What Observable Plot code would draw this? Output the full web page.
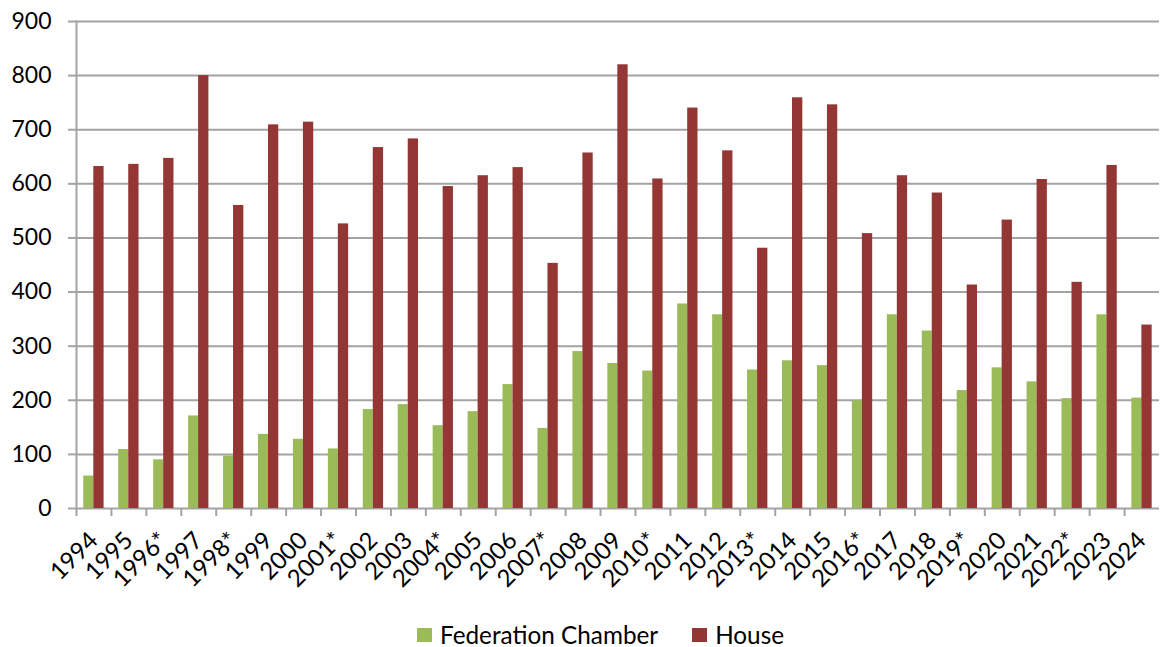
<!DOCTYPE html>
<html>
<head>
<meta charset="utf-8">
<script src="https://cdn.jsdelivr.net/npm/d3@7"></script>
<script src="https://cdn.jsdelivr.net/npm/@observablehq/plot@0.6"></script>
<style>
  html, body { margin: 0; padding: 0; background: #fff; }
  #chart { width: 1161px; height: 647px; position: relative; font-family: "Lato", sans-serif; }
  #chart svg { display: block; }
  .legend { display: flex; align-items: center; height: 24px; line-height: 24px; margin-left: 417px; font-size: 24.3px; color: #000; }
  .legend .item { display: flex; align-items: center; margin-right: 34px; }
  .legend .sw { width: 15px; height: 14px; margin-right: 8px; }
</style>
</head>
<body>
<div id="chart"></div>
<script>
const years = ["1994","1995","1996*","1997","1998*","1999","2000","2001*","2002","2003","2004*","2005","2006","2007*","2008","2009","2010*","2011","2012","2013*","2014","2015","2016*","2017","2018","2019*","2020","2021","2022*","2023","2024"];
const federationChamber = [60,109,90,171,97,137,128,110,183,192,153,179,229,148,290,268,254,378,358,256,273,264,199,358,328,218,260,234,203,358,204];
const house = [632,636,647,800,560,709,714,526,667,683,595,615,630,453,657,820,609,740,661,481,759,746,508,615,583,413,533,608,418,634,339];
const seriesNames = ["Federation Chamber", "House"];
const seriesColors = ["#9BBB59", "#943634"];
const yTicks = [0,100,200,300,400,500,600,700,800,900];

const W = 1161, H = 623, mL = 76, mR = 2, mT = 21, mB = 115;
const step = (W - mL - mR) / years.length;
const gridColor = "#a3a3a3";

const fcData = years.map((y, i) => ({year: y, value: federationChamber[i], series: seriesNames[0]}));
const hData = years.map((y, i) => ({year: y, value: house[i], series: seriesNames[1]}));

const chart = Plot.plot({
  width: W, height: H,
  marginLeft: mL, marginRight: mR, marginTop: mT, marginBottom: mB,
  style: {fontFamily: "Lato, sans-serif", fontSize: "23px", color: "#000", background: "#fff"},
  x: {type: "band", domain: years, padding: 0, round: false},
  y: {domain: [0, 900]},
  marks: [
    Plot.ruleY(yTicks, {stroke: gridColor, strokeWidth: 2}),
    Plot.frame({anchor: "left", stroke: gridColor, strokeWidth: 2}),
    Plot.axisY({ticks: yTicks, tickSize: 8, tickPadding: 17, stroke: gridColor, strokeWidth: 2, label: null}),
    Plot.barY(fcData, {x: "year", y: "value", fill: seriesColors[0], insetLeft: 7.3, insetRight: step - 17.3}),
    Plot.barY(hData, {x: "year", y: "value", fill: seriesColors[1], insetLeft: 17.3, insetRight: step - 27.6}),
    Plot.axisX({tickSize: 8, dx: -step / 2, tickFormat: () => "", stroke: gridColor, strokeWidth: 2, label: null}),
    Plot.axisX({tickSize: 0, tickRotate: -45, tickPadding: 28, dx: 0, fontSize: 24, textAnchor: "end", lineAnchor: "middle", label: null})
  ]
});

const root = document.getElementById("chart");
root.appendChild(chart);
const legend = document.createElement("div");
legend.className = "legend";
seriesNames.forEach((name, i) => {
  const item = document.createElement("div");
  item.className = "item";
  const sw = document.createElement("div");
  sw.className = "sw";
  sw.style.background = seriesColors[i];
  const t = document.createElement("span");
  t.textContent = name;
  item.appendChild(sw);
  item.appendChild(t);
  legend.appendChild(item);
});
root.appendChild(legend);
</script>
</body>
</html>
